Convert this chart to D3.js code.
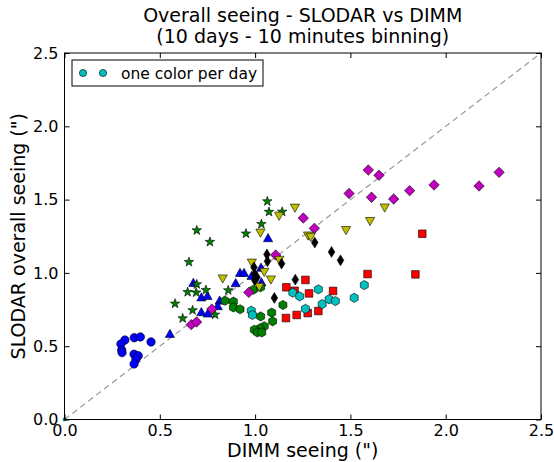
<!DOCTYPE html>
<html><head><meta charset="utf-8">
<script src="https://cdn.jsdelivr.net/npm/d3@7"></script>
<style>body{margin:0;background:#fff;} svg{display:block;font-family:"DejaVu Sans",sans-serif;}</style>
</head><body><svg id="c" width="554" height="462"></svg>
<script>
const ticks = [0, 0.5, 1.0, 1.5, 2.0, 2.5];
const titleLines = ["Overall seeing - SLODAR vs DIMM", "(10 days - 10 minutes binning)"];
const xLabel = 'DIMM seeing (")';
const yLabel = 'SLODAR overall seeing (")';
const legendText = "one color per day";

// day 1: blue circles
const day1 = [[0.317,0.542],[0.296,0.515],[0.300,0.474],[0.302,0.456],[0.366,0.558],[0.398,0.563],[0.454,0.529],[0.365,0.445],[0.387,0.435],[0.375,0.411],[0.365,0.379]];
// day 2: blue triangles up
const day2 = [[0.553,0.583],[0.676,0.931],[0.718,0.832],[0.750,0.842],[0.814,0.810],[0.804,0.772],[0.718,0.731],[0.752,0.722],[0.898,0.929],[0.921,0.999],[0.942,0.999],[0.982,0.979],[1.031,1.034],[1.033,0.935],[1.068,1.236]];
// day 3: green stars
const day3 = [[0.580,0.790],[0.620,0.690],[0.672,0.745],[0.646,0.869],[0.691,0.866],[0.694,0.922],[0.742,0.883],[0.859,0.881],[0.790,0.715],[0.653,1.074],[0.694,1.290],[0.763,1.211],[0.952,1.268],[1.033,1.333],[1.064,1.488],[1.073,1.416],[1.142,1.417]];
// day 4: green hexagons
const day4 = [[0.842,0.810],[0.886,0.804],[0.886,0.765],[0.921,0.752],[0.991,0.885],[1.029,0.902],[1.087,0.729],[1.146,0.781],[1.029,0.703],[1.092,0.670],[1.048,0.636],[1.026,0.622],[0.996,0.612],[1.012,0.594],[1.035,0.594]];
// day 5: red squares
const day5 = [[1.164,0.902],[1.264,0.952],[1.207,0.878],[1.283,0.860],[1.409,0.877],[1.590,0.992],[1.841,0.990],[1.877,1.267],[1.162,0.692],[1.218,0.713],[1.276,0.726],[1.332,0.740]];
// day 6: cyan hexagons
const day6 = [[0.980,0.742],[0.986,0.713],[1.198,0.865],[1.234,0.840],[1.332,0.888],[1.264,0.755],[1.352,0.787],[1.388,0.820],[1.421,0.808],[1.520,0.830],[1.573,0.917]];
// day 7: magenta diamonds
const day7 = [[0.665,0.647],[0.693,0.665],[0.773,0.753],[0.967,0.867],[1.108,1.122],[1.253,1.374],[1.311,1.304],[1.493,1.542],[1.594,1.702],[1.650,1.666],[1.611,1.516],[1.727,1.504],[1.811,1.561],[1.939,1.600],[2.175,1.593],[2.280,1.686]];
// day 8: yellow triangles down
const day8 = [[1.209,1.446],[1.126,1.391],[1.028,1.276],[0.983,1.071],[0.830,0.963],[1.127,1.090],[1.048,1.008],[1.083,0.956],[1.022,0.906],[1.278,1.256],[1.292,1.247],[1.477,1.293],[1.603,1.355],[1.680,1.447]];
// day 9: black thin diamonds
const day9 = [[1.062,1.126],[1.065,1.079],[1.139,1.063],[0.994,1.038],[0.998,0.990],[1.010,0.970],[0.998,0.950],[1.101,0.829],[1.211,0.954],[1.313,1.207],[1.401,1.143],[1.448,1.086]];
// legend dummy point
const origin = [[0,0]];

const series = [
  {data: day1, color: "#0000ff", marker: "circle"},
  {data: day2, color: "#0000ff", marker: "triUp"},
  {data: day3, color: "#008000", marker: "star"},
  {data: day4, color: "#008000", marker: "hex"},
  {data: day5, color: "#ff0000", marker: "square"},
  {data: day6, color: "#00bfbf", marker: "hex"},
  {data: day7, color: "#bf00bf", marker: "diamond"},
  {data: day8, color: "#bfbf00", marker: "triDown"},
  {data: day9, color: "#000000", marker: "thinDiamond"}
];

function markerPath(type, rr) {
  const p = [];
  const poly = pts => "M" + pts.map(q => q[0].toFixed(2) + "," + q[1].toFixed(2)).join("L") + "Z";
  switch (type) {
    case "circle": { const r = rr || 4.2; return d3.symbol(d3.symbolCircle, Math.PI * r * r)(); }
    case "square": return poly([[-3.8,-3.8],[3.8,-3.8],[3.8,3.8],[-3.8,3.8]]);
    case "diamond": return poly([[0,-5.2],[5.2,0],[0,5.2],[-5.2,0]]);
    case "thinDiamond": return poly([[0,-5.4],[3.3,0],[0,5.4],[-3.3,0]]);
    case "triUp": return poly([[0,-4.8],[4.6,3.4],[-4.6,3.4]]);
    case "triDown": return poly([[0,4.8],[4.6,-3.4],[-4.6,-3.4]]);
    case "hex": {
      for (let i = 0; i < 6; i++) { const a = Math.PI / 3 * i + Math.PI / 6; p.push([4.6 * Math.cos(a), 4.6 * Math.sin(a)]); }
      return poly(p);
    }
    case "star": {
      for (let i = 0; i < 10; i++) { const a = -Math.PI / 2 + Math.PI / 5 * i; const r = i % 2 ? 2.0 : 5.0; p.push([r * Math.cos(a), r * Math.sin(a)]); }
      return poly(p);
    }
  }
}

const svg = d3.select("#c");
svg.append("rect").attr("width", 554).attr("height", 462).attr("fill", "#fff");

const L = 64.5, R = 541, T = 53, B = 419.5;
const x = d3.scaleLinear().domain([0, 2.5]).range([L, R]);
const y = d3.scaleLinear().domain([0, 2.5]).range([B, T]);
const fmt = d3.format(".1f");

// diagonal
svg.append("line").attr("x1", x(0)).attr("y1", y(0)).attr("x2", x(2.5)).attr("y2", y(2.5))
  .attr("stroke", "#999").attr("stroke-width", 1.2).attr("stroke-dasharray", "6,4");

// points
const plot = svg.append("g");
plot.selectAll("path.o").data(origin).join("path")
  .attr("d", d3.symbol(d3.symbolSquare, 9)())
  .attr("transform", d => `translate(${x(d[0])},${y(d[1])})`)
  .attr("fill", "#00bfbf").attr("stroke", "#000").attr("stroke-width", 0.3);
series.forEach(s => {
  plot.append("g").selectAll("path").data(s.data).join("path")
    .attr("d", markerPath(s.marker))
    .attr("transform", d => `translate(${x(d[0])},${y(d[1])})`)
    .attr("fill", s.color).attr("stroke", "#000").attr("stroke-width", 0.6);
});

// axes
const axStyle = g => { g.select(".domain").remove(); g.selectAll("line").attr("stroke", "#000"); g.selectAll("text").attr("font-family", "DejaVu Sans").attr("font-size", 16).attr("fill", "#000"); };
svg.append("g").attr("transform", `translate(0,${B})`)
  .call(d3.axisBottom(x).tickValues(ticks).tickFormat(fmt).tickSizeInner(-5).tickSizeOuter(0).tickPadding(5)).call(axStyle);
svg.append("g").attr("transform", `translate(0,${T})`)
  .call(d3.axisTop(x).tickValues(ticks).tickFormat("").tickSizeInner(-5).tickSizeOuter(0)).call(axStyle);
svg.append("g").attr("transform", `translate(${L},0)`)
  .call(d3.axisLeft(y).tickValues(ticks).tickFormat(fmt).tickSizeInner(-5).tickSizeOuter(0).tickPadding(6)).call(axStyle);
svg.append("g").attr("transform", `translate(${R},0)`)
  .call(d3.axisRight(y).tickValues(ticks).tickFormat("").tickSizeInner(-5).tickSizeOuter(0)).call(axStyle);

svg.append("rect").attr("x", L).attr("y", T).attr("width", R - L).attr("height", B - T)
  .attr("fill", "none").attr("stroke", "#000").attr("stroke-width", 1);

// title
svg.append("g").selectAll("text").data(titleLines).join("text")
  .attr("x", (L + R) / 2).attr("y", (d, i) => 21.5 + i * 21.5)
  .attr("text-anchor", "middle").attr("font-size", 19).text(d => d);

// axis labels
svg.append("text").attr("x", (L + R) / 2).attr("y", 457).attr("text-anchor", "middle").attr("font-size", 19).text(xLabel);
svg.append("text").attr("transform", `translate(25,${(T + B) / 2}) rotate(-90)`).attr("text-anchor", "middle").attr("font-size", 19).text(yLabel);

// legend
const lg = svg.append("g");
lg.append("rect").attr("x", 72).attr("y", 60).attr("width", 191).attr("height", 26)
  .attr("fill", "#fff").attr("stroke", "#000").attr("stroke-width", 1);
lg.selectAll("path").data([83, 103]).join("path")
  .attr("d", markerPath("circle", 3.6)).attr("transform", d => `translate(${d},73)`)
  .attr("fill", "#00bfbf").attr("stroke", "#000").attr("stroke-width", 0.6);
lg.append("text").attr("x", 121).attr("y", 78.5).attr("font-size", 15.5).text(legendText);
</script></body></html>
